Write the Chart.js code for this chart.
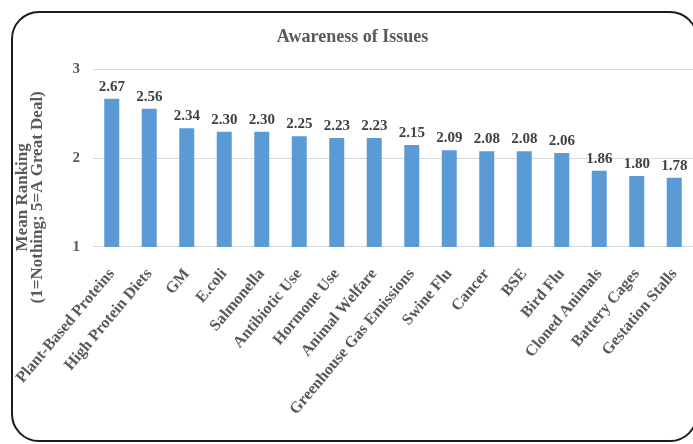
<!DOCTYPE html>
<html>
<head>
<meta charset="utf-8">
<script src="https://cdn.jsdelivr.net/npm/chart.js@4/dist/chart.umd.min.js"></script>
<style>
  html, body { margin: 0; padding: 0; background: #fff; overflow: hidden; }
  #wrap { position: relative; width: 693px; height: 444px; }
  #chart { position: absolute; left: 0; top: 0; }
  #frame {
    position: absolute; left: 11px; top: 11px; width: 687px; height: 431px;
    box-sizing: border-box; border: 2.5px solid #1b1b1b; border-radius: 28px;
    pointer-events: none;
  }
</style>
</head>
<body>
<div id="wrap">
  <canvas id="chart" width="693" height="444"></canvas>
  <div id="frame"></div>
</div>
<script>
// Issue categories, sorted by mean awareness score
const categories = [
  'Plant-Based Proteins', 'High Protein Diets', 'GM', 'E.coli', 'Salmonella',
  'Antibiotic Use', 'Hormone Use', 'Animal Welfare', 'Greenhouse Gas Emissions',
  'Swine Flu', 'Cancer', 'BSE', 'Bird Flu', 'Cloned Animals', 'Battery Cages',
  'Gestation Stalls'
];
// Mean ranking per issue (1 = Nothing, 5 = A Great Deal)
const meanRanking = [2.67, 2.56, 2.34, 2.30, 2.30, 2.25, 2.23, 2.23, 2.15, 2.09, 2.08, 2.08, 2.06, 1.86, 1.80, 1.78];
// Value axis ticks
const yTicks = [1, 2, 3];
const chartTitle = 'Awareness of Issues';
const yTitleLines = ['Mean Ranking', '(1=Nothing; 5=A Great Deal)'];

const SERIF = '"Liberation Serif", "Times New Roman", serif';
const TEXT = '#595959';

// Numeric value printed above each bar
const valueLabels = {
  id: 'valueLabels',
  afterDatasetsDraw(chart) {
    const { ctx } = chart;
    const meta = chart.getDatasetMeta(0);
    ctx.save();
    ctx.font = 'bold 15px ' + SERIF;
    ctx.fillStyle = '#404040';
    ctx.textAlign = 'center';
    ctx.textBaseline = 'alphabetic';
    meta.data.forEach((bar, i) => {
      ctx.fillText(meanRanking[i].toFixed(2), bar.x, bar.y - 8);
    });
    ctx.restore();
  }
};

// Two-line rotated title for the value axis
const valueAxisTitle = {
  id: 'valueAxisTitle',
  afterDraw(chart) {
    const { ctx, chartArea } = chart;
    const cy = (chartArea.top + chartArea.bottom) / 2 + 39;
    const xs = [chartArea.left - 70, chartArea.left - 55];
    ctx.save();
    ctx.font = 'bold 17px ' + SERIF;
    ctx.fillStyle = TEXT;
    ctx.textAlign = 'center';
    ctx.textBaseline = 'middle';
    yTitleLines.forEach((line, i) => {
      ctx.save();
      ctx.translate(xs[i], cy);
      ctx.rotate(-Math.PI / 2);
      ctx.fillText(line, 0, 0);
      ctx.restore();
    });
    ctx.restore();
  }
};

new Chart(document.getElementById('chart'), {
  type: 'bar',
  data: {
    labels: categories,
    datasets: [{
      data: meanRanking,
      backgroundColor: '#5B9BD5',
      borderWidth: 0,
      categoryPercentage: 0.8,
      barPercentage: 0.5
    }]
  },
  options: {
    responsive: false,
    devicePixelRatio: 1,
    animation: false,
    layout: { padding: { left: 12, right: 0, top: 17, bottom: 0 } },
    plugins: {
      legend: { display: false },
      tooltip: { enabled: false },
      title: {
        display: true,
        text: chartTitle,
        color: TEXT,
        font: { family: SERIF, size: 18, weight: 'bold' },
        padding: { top: 10, bottom: 21 }
      }
    },
    scales: {
      x: {
        grid: { display: false },
        border: { display: true, color: '#D9D9D9', width: 1 },
        ticks: {
          color: TEXT,
          font: { family: SERIF, size: 16, weight: 'bold' },
          minRotation: 50,
          maxRotation: 50,
          autoSkip: false,
          padding: 10
        },
        afterFit(scale) {
          scale.height = 197;
          scale.paddingLeft = 0;
          scale.paddingRight = 0;
        }
      },
      y: {
        min: 1,
        max: 3,
        afterBuildTicks(scale) { scale.ticks = yTicks.map(v => ({ value: v })); },
        grid: { color: '#D9D9D9', drawTicks: false },
        border: { display: false },
        ticks: {
          color: TEXT,
          font: { family: SERIF, size: 15, weight: 'bold' },
          padding: 13
        },
        afterFit(scale) { scale.width = 81; }
      }
    }
  },
  plugins: [valueLabels, valueAxisTitle]
});
</script>
</body>
</html>
